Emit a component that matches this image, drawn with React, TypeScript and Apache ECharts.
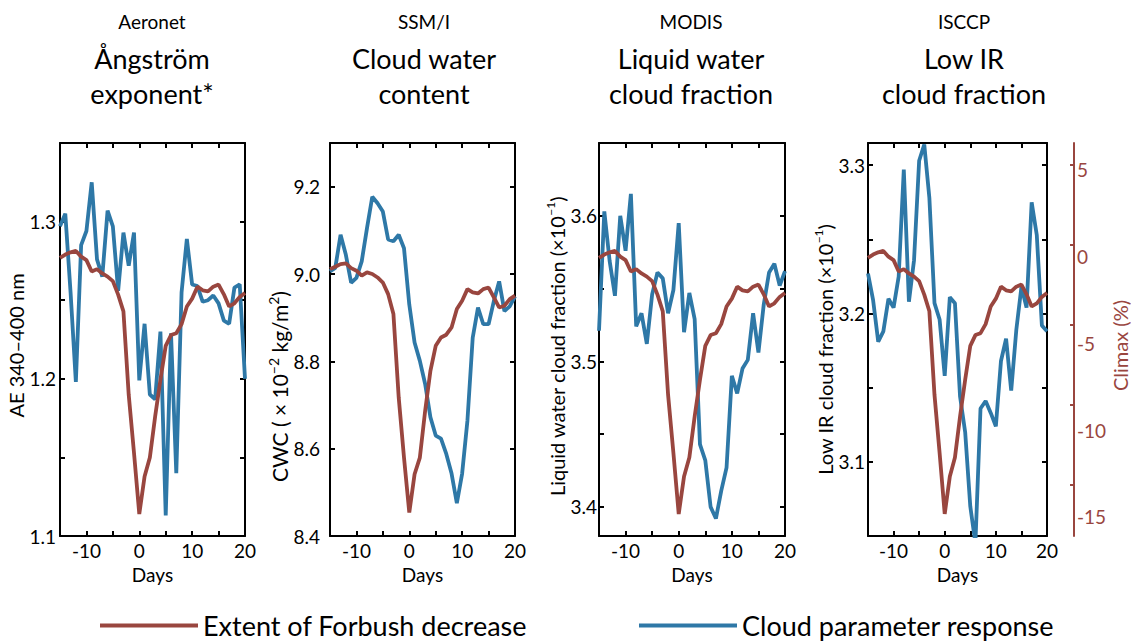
import React, { useEffect, useRef } from 'react';
import * as echarts from 'echarts';

const days = [-15, -14, -13, -12, -11, -10, -9, -8, -7, -6, -5, -4, -3, -2, -1, 0, 1, 2, 3, 4, 5, 6, 7, 8, 9, 10, 11, 12, 13, 14, 15, 16, 17, 18, 19, 20];

const sourceNames = ['Aeronet', 'SSM/I', 'MODIS', 'ISCCP'];
const parameterTitles = ['Ångström\nexponent*', 'Cloud water\ncontent', 'Liquid water\ncloud fraction', 'Low IR\ncloud fraction'];
const legendNames = ['Extent of Forbush decrease', 'Cloud parameter response'];

const aeronetAE = [1.297, 1.305, 1.255, 1.198, 1.285, 1.294, 1.325, 1.276, 1.265, 1.307, 1.297, 1.256, 1.293, 1.272, 1.293,
  1.199, 1.235, 1.190, 1.187, 1.230, 1.113, 1.229, 1.140, 1.255, 1.289, 1.260, 1.259, 1.249, 1.250, 1.253, 1.248, 1.237, 1.235, 1.258, 1.260, 1.200];
const ssmiCWC = [9.006, 9.014, 9.090, 9.044, 8.980, 8.991, 9.029, 9.105, 9.177, 9.162, 9.143, 9.079, 9.075, 9.090, 9.059,
  8.930, 8.843, 8.801, 8.748, 8.672, 8.630, 8.623, 8.588, 8.543, 8.475, 8.543, 8.664, 8.854, 8.923, 8.885, 8.885, 8.938, 8.983, 8.915, 8.926, 8.949];
const modisLWCF = [3.521, 3.603, 3.569, 3.545, 3.600, 3.576, 3.615, 3.524, 3.533, 3.512, 3.546, 3.561, 3.557, 3.533, 3.549,
  3.595, 3.520, 3.547, 3.529, 3.443, 3.432, 3.400, 3.392, 3.411, 3.427, 3.490, 3.478, 3.495, 3.501, 3.533, 3.506, 3.539, 3.561, 3.567, 3.552, 3.562];
const isccpLowIR = [3.227, 3.209, 3.181, 3.188, 3.210, 3.204, 3.225, 3.297, 3.208, 3.236, 3.303, 3.314, 3.278, 3.207, 3.196,
  3.158, 3.211, 3.207, 3.144, 3.120, 3.070, 3.045, 3.136, 3.141, 3.133, 3.124, 3.168, 3.183, 3.148, 3.189, 3.218, 3.204, 3.275, 3.253, 3.192, 3.188];

const forbushClimax = [-0.07, 0.12, 0.25, 0.33, 0.00, -0.20, -0.86, -0.72, -0.97, -1.15, -1.41, -2.19, -3.15, -7.96, -11.31,
  -14.83, -12.67, -11.58, -9.21, -7.09, -5.14, -4.52, -4.41, -3.89, -2.87, -2.42, -1.73, -1.94, -2.00, -1.73, -1.61, -2.17, -2.87, -2.69, -2.32, -2.09];
const forbushClimaxSSMI = [-0.72, -0.58, -0.43, -0.39, -0.66, -0.81, -1.10, -0.91, -1.00, -1.20, -1.49, -2.16, -3.31, -8.12, -11.58,
  -14.75, -12.54, -11.58, -8.89, -6.58, -5.14, -4.66, -4.50, -4.08, -3.02, -2.54, -1.87, -2.06, -2.12, -1.87, -1.78, -2.35, -2.93, -2.83, -2.45, -2.25];

const aeTicks = [1.15, 1.2, 1.25, 1.3];
const aeLabels = [1.1, 1.2, 1.3];
const cwcTicks = [8.6, 8.8, 9.0, 9.2];
const cwcLabels = [8.4, 8.6, 8.8, 9.0, 9.2];
const lwcfTicks = [3.4, 3.45, 3.5, 3.55, 3.6];
const lwcfLabels = [3.4, 3.5, 3.6];
const irTicks = [3.1, 3.15, 3.2, 3.25, 3.3];
const irLabels = [3.1, 3.2, 3.3];
const climaxTicks = [5.28, 0.7, -3.92, -8.53, -13.15];
const climaxLabels = [5, 0, -5, -10, -15];

const FONT = 'Lato';
const BLUE = '#2e78a7';
const RED = '#99463f';
const CLIMAX_MIN = -16.1;
const CLIMAX_MAX = 6.55;

const panels = [
  { values: aeronetAE, forbush: forbushClimax, min: 1.1, max: 1.35, ticks: aeTicks, labels: aeLabels, left: 60, width: 185, cx: 152, labelMargin: 4,
    name: '{t|AE 340–400 nm}', nameGap: 28, shift: 6 },
  { values: ssmiCWC, forbush: forbushClimaxSSMI, min: 8.4, max: 9.3, ticks: cwcTicks, labels: cwcLabels, left: 330, width: 185, cx: 424, labelMargin: 10,
    name: '{b|CWC ( × 10}{c|−2}{b| kg/m}{c|2}{b|)}', nameGap: 30, shift: 47 },
  { values: modisLWCF, forbush: forbushClimax, min: 3.38, max: 3.65, ticks: lwcfTicks, labels: lwcfLabels, left: 599, width: 186, cx: 691, labelMargin: 2,
    name: '{t|Liquid water cloud fraction (×10}{s|−1}{t|)}', nameGap: 24, shift: 7 },
  { values: isccpLowIR, forbush: forbushClimax, min: 3.05, max: 3.315, ticks: irTicks, labels: irLabels, left: 868, width: 184, cx: 964, labelMargin: 3,
    name: '{t|Low IR cloud fraction (×10}{s|−1}{t|)}', nameGap: 28, shift: 10 },
];

const GRID_TOP = 143;
const GRID_HEIGHT = 393;

function buildOption() {
  const grid: any[] = [];
  const xAxis: any[] = [];
  const yAxis: any[] = [];
  const series: any[] = [];
  const title: any[] = [];
  const axisLine = { show: true, onZero: false, lineStyle: { color: '#000', width: 2 } };
  const tickStyle = { color: '#000', width: 2 };
  const nameRich = {
    t: { fontSize: 20, lineHeight: 24, fontFamily: FONT, color: '#000' },
    s: { fontSize: 12, lineHeight: 12, fontFamily: FONT, color: '#000', verticalAlign: 'top' },
    b: { fontSize: 21, lineHeight: 25, fontFamily: FONT, color: '#000' },
    c: { fontSize: 14, lineHeight: 14, fontFamily: FONT, color: '#000', verticalAlign: 'top' },
  };

  panels.forEach((p, i) => {
    grid.push({ left: p.left, top: GRID_TOP, width: p.width, height: GRID_HEIGHT, containLabel: false });
    title.push({
      text: sourceNames[i], left: p.cx, top: 12, textAlign: 'center', padding: 0,
      textStyle: { fontSize: 19, fontWeight: 'normal', fontFamily: FONT, color: '#000' },
    });
    title.push({
      text: parameterTitles[i], left: p.cx, top: 41, textAlign: 'center', padding: 0,
      textStyle: { fontSize: 27, lineHeight: 35, fontWeight: 'normal', fontFamily: FONT, color: '#000' },
    });
    xAxis.push({
      type: 'value', gridIndex: i, min: -15, max: 20, interval: 5, position: 'bottom',
      axisLine, splitLine: { show: false },
      axisTick: { show: true, inside: true, length: 5, lineStyle: tickStyle },
      axisLabel: {
        show: true, margin: 5, fontSize: 19, fontFamily: FONT, color: '#000', showMaxLabel: true,
        formatter: (v: number) => (v % 10 === 0 ? String(v) : ''),
      },
      name: 'Days', nameLocation: 'middle', nameGap: 25,
      nameTextStyle: { fontSize: 19, fontFamily: FONT, color: '#000' },
    });
    xAxis.push({
      type: 'value', gridIndex: i, min: -15, max: 20, interval: 5, position: 'top',
      axisLine, splitLine: { show: false },
      axisTick: { show: true, inside: true, length: 5, lineStyle: tickStyle },
      axisLabel: { show: false },
    });
    yAxis.push({
      type: 'value', gridIndex: i, min: p.min, max: p.max, position: 'left',
      axisLine, splitLine: { show: false },
      axisTick: { show: true, inside: true, length: 5, lineStyle: tickStyle, customValues: p.ticks },
      axisLabel: {
        show: true, margin: p.labelMargin, fontSize: 19, fontFamily: FONT, color: '#000', customValues: p.labels,
        formatter: (v: number) => v.toFixed(1),
      },
      name: p.name, nameLocation: 'middle', nameGap: p.nameGap, nameRotate: 90,
      nameTextStyle: { rich: nameRich, padding: [0, p.shift * 2, 0, 0] },
    });
    yAxis.push({
      type: 'value', gridIndex: i, min: p.min, max: p.max, position: 'right',
      axisLine, splitLine: { show: false },
      axisTick: { show: true, inside: true, length: 5, lineStyle: tickStyle, customValues: p.ticks },
      axisLabel: { show: false },
    });
    const last = i === panels.length - 1;
    yAxis.push({
      type: 'value', gridIndex: i, min: CLIMAX_MIN, max: CLIMAX_MAX, position: 'right',
      show: last, offset: 27,
      axisLine: { show: true, onZero: false, lineStyle: { color: RED, width: 2 } },
      splitLine: { show: false },
      axisTick: { show: true, inside: true, length: 4, lineStyle: { color: RED, width: 2 }, customValues: climaxTicks },
      axisLabel: { show: true, margin: 3, fontSize: 19, fontFamily: FONT, color: RED, customValues: climaxLabels },
      name: 'Climax (%)', nameLocation: 'middle', nameGap: 26, nameRotate: 90,
      nameTextStyle: { fontSize: 20, fontFamily: FONT, color: RED, padding: [0, 12, 0, 0] },
    });

    series.push({
      type: 'line', name: legendNames[1], xAxisIndex: 2 * i, yAxisIndex: 3 * i,
      data: days.map((d, k) => [d, p.values[k]]),
      showSymbol: false, symbol: 'none', clip: true,
      lineStyle: { color: BLUE, width: 3.8 }, itemStyle: { color: BLUE },
    });
    series.push({
      type: 'line', name: legendNames[0], xAxisIndex: 2 * i, yAxisIndex: 3 * i + 2,
      data: days.map((d, k) => [d, p.forbush[k]]),
      showSymbol: false, symbol: 'none', clip: true,
      lineStyle: { color: RED, width: 3.8 }, itemStyle: { color: RED },
    });
  });

  return {
    animation: false,
    backgroundColor: '#fff',
    textStyle: { fontFamily: FONT },
    title,
    grid,
    xAxis,
    yAxis,
    series,
    legend: {
      data: legendNames.map((n) => ({ name: n, icon: 'rect' })),
      left: 100, top: 612, padding: 0, itemWidth: 98, itemHeight: 4, itemGap: 112,
      textStyle: { fontSize: 27, fontFamily: FONT, color: '#000' },
      selectedMode: false,
    },
  };
}

export default function App() {
  const ref = useRef<HTMLDivElement>(null);
  useEffect(() => {
    if (!ref.current) return;
    const chart = echarts.init(ref.current, undefined, { renderer: 'svg' });
    chart.setOption(buildOption() as any);
    return () => chart.dispose();
  }, []);
  return <div ref={ref} style={{ position: 'absolute', left: 0, top: 0, width: 1131, height: 641 }} />;
}
